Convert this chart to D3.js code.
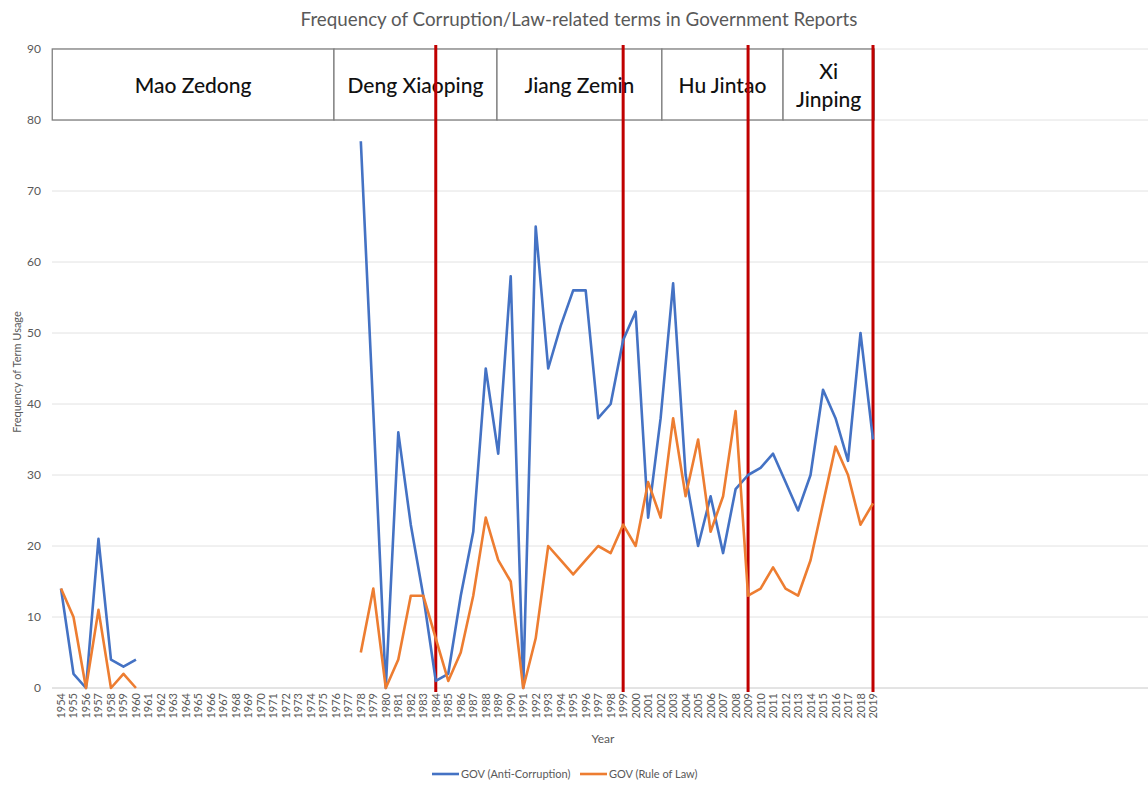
<!DOCTYPE html>
<html lang="en">
  <head>
    <meta charset="UTF-8" />
    <title>Frequency of Corruption/Law-related terms</title>
    <script src="https://d3js.org/d3.v7.min.js"></script>
    <style>
      body { margin: 0; background: #fff; }
      text { font-family: Lato, 'Open Sans', sans-serif; }
    </style>
  </head>
  <body>
    <div id="chart"></div>

    <script>
      // chart data
      const years = d3.range(1954, 2020);
      const antiCorruption = [
        14, 2, 0, 21, 4, 3, 4,
        null, null, null, null, null, null, null, null, null,
        null, null, null, null, null, null, null, null,
        77, 39, 0, 36, 23, 13, 1, 2, 13, 22, 45, 33, 58, 0, 65, 45,
        51, 56, 56, 38, 40, 49, 53, 24, 38, 57, 30, 20, 27, 19, 28,
        30, 31, 33, 29, 25, 30, 42, 38, 32, 50, 35
      ];
      const ruleOfLaw = [
        14, 10, 0, 11, 0, 2, 0,
        null, null, null, null, null, null, null, null, null,
        null, null, null, null, null, null, null, null,
        5, 14, 0, 4, 13, 13, 7, 1, 5, 13, 24, 18, 15, 0, 7, 20,
        18, 16, 18, 20, 19, 23, 20, 29, 24, 38, 27, 35, 22, 27, 39,
        13, 14, 17, 14, 13, 18, 26, 34, 30, 23, 26
      ];
      const yTicks = [0, 10, 20, 30, 40, 50, 60, 70, 80, 90];

      // leader boxes and red divider years
      const leaders = [['Mao Zedong'], ['Deng Xiaoping'], ['Jiang Zemin'], ['Hu Jintao'], ['Xi', 'Jinping']];
      const leaderStart = [1953.3, 1975.85, 1988.9, 2002.1, 2011.8];
      const leaderEnd = [1975.85, 1988.9, 2002.1, 2011.8, 2019.1];
      const dividers = [1984, 1999, 2009, 2019];

      const width = 1148;
      const height = 785;

      const svg = d3
        .select('#chart')
        .append('svg')
        .attr('width', width)
        .attr('height', height);

      const x = d3.scaleLinear().domain([1954, 2019]).range([61, 873]);
      const y = d3.scaleLinear().domain([0, 90]).range([688, 49]);

      // title
      svg
        .append('text')
        .attr('x', 579)
        .attr('y', 26)
        .attr('text-anchor', 'middle')
        .attr('fill', '#595959')
        .style('font-size', '18.8px')
        .text('Frequency of Corruption/Law-related terms in Government Reports');

      // gridlines
      svg
        .append('g')
        .selectAll('line')
        .data(yTicks)
        .enter()
        .append('line')
        .attr('x1', 52)
        .attr('x2', width)
        .attr('y1', (d) => y(d))
        .attr('y2', (d) => y(d))
        .attr('stroke', (d) => (d === 0 ? '#c8c8c8' : '#e2e2e2'))
        .attr('stroke-width', 1);

      // y tick labels
      svg
        .append('g')
        .selectAll('text')
        .data(yTicks)
        .enter()
        .append('text')
        .attr('x', 41)
        .attr('y', (d) => y(d) + 4)
        .attr('text-anchor', 'end')
        .attr('fill', '#595959')
        .style('font-size', '12px')
        .text((d) => d);

      svg
        .append('text')
        .attr('transform', 'translate(21,372) rotate(-90)')
        .attr('text-anchor', 'middle')
        .attr('fill', '#595959')
        .style('font-size', '11px')
        .text('Frequency of Term Usage');

      // x tick labels (rotated)
      svg
        .append('g')
        .selectAll('text')
        .data(years)
        .enter()
        .append('text')
        .attr('transform', (d) => `translate(${x(d) + 4},693) rotate(-90)`)
        .attr('text-anchor', 'end')
        .attr('fill', '#595959')
        .style('font-size', '11px')
        .text((d) => d);

      svg
        .append('text')
        .attr('x', 603)
        .attr('y', 743)
        .attr('text-anchor', 'middle')
        .attr('fill', '#595959')
        .style('font-size', '12px')
        .text('Year');

      // leader boxes
      const box = svg
        .append('g')
        .selectAll('g')
        .data(leaders)
        .enter()
        .append('g');

      box
        .append('rect')
        .attr('x', (d, i) => x(leaderStart[i]))
        .attr('y', y(90))
        .attr('width', (d, i) => x(leaderEnd[i]) - x(leaderStart[i]))
        .attr('height', y(80) - y(90))
        .attr('fill', '#fff')
        .attr('stroke', '#7f7f7f')
        .attr('stroke-width', 1.3);

      box
        .selectAll('text')
        .data((d, i) =>
          d.map((t, j) => ({
            t: t,
            cx: (x(leaderStart[i]) + x(leaderEnd[i])) / 2,
            cy: (y(90) + y(80)) / 2 + (j - (d.length - 1) / 2) * 28
          }))
        )
        .enter()
        .append('text')
        .attr('x', (d) => d.cx)
        .attr('y', (d) => d.cy + 8)
        .attr('text-anchor', 'middle')
        .attr('fill', '#111')
        .style('font-size', '21px')
        .style('font-weight', 500)
        .text((d) => d.t);

      // red dividers
      svg
        .append('g')
        .selectAll('line')
        .data(dividers)
        .enter()
        .append('line')
        .attr('x1', (d) => x(d))
        .attr('x2', (d) => x(d))
        .attr('y1', 45)
        .attr('y2', 692)
        .attr('stroke', '#c00000')
        .attr('stroke-width', 3);

      // series lines
      const line = d3
        .line()
        .defined((d) => d[1] !== null)
        .x((d) => x(d[0]))
        .y((d) => y(d[1]));

      const series = [
        { name: 'GOV (Anti-Corruption)', values: antiCorruption, color: '#4472c4' },
        { name: 'GOV (Rule of Law)', values: ruleOfLaw, color: '#ed7d31' }
      ];

      svg
        .append('g')
        .selectAll('path')
        .data(series)
        .enter()
        .append('path')
        .attr('d', (s) => line(years.map((yr, i) => [yr, s.values[i]])))
        .attr('fill', 'none')
        .attr('stroke', (s) => s.color)
        .attr('stroke-width', 2.6)
        .attr('stroke-linejoin', 'round');

      // legend
      const legend = svg
        .append('g')
        .selectAll('g')
        .data(series)
        .enter()
        .append('g')
        .attr('transform', (d, i) => `translate(${i === 0 ? 432 : 580},774)`);

      legend
        .append('line')
        .attr('x1', 0)
        .attr('x2', 27)
        .attr('stroke', (d) => d.color)
        .attr('stroke-width', 2.6);

      legend
        .append('text')
        .attr('x', 29)
        .attr('y', 4)
        .attr('fill', '#595959')
        .style('font-size', '11px')
        .text((d) => d.name);
    </script>
  </body>
</html>
